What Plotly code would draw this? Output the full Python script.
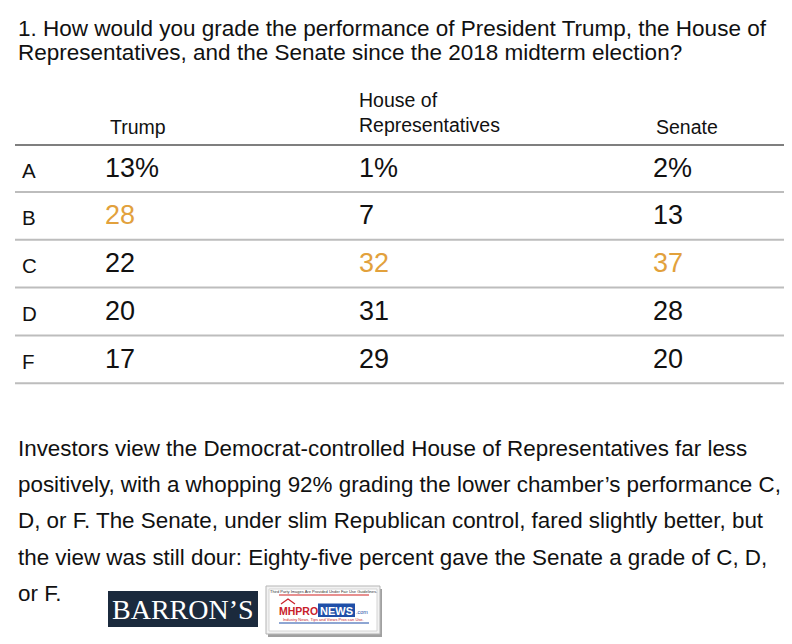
import plotly.graph_objects as go

# ---- data ----
grades = ["A", "B", "C", "D", "F"]
columns = ["Trump", "House of<br>Representatives", "Senate"]
trump = [13, 28, 22, 20, 17]
house = [1, 7, 32, 31, 29]
senate = [2, 13, 37, 28, 20]
title_lines = [
    "1. How would you grade the performance of President Trump, the House of",
    "Representatives, and the Senate since the 2018 midterm election?",
]
para_lines = [
    "Investors view the Democrat-controlled House of Representatives far less",
    "positively, with a whopping 92% grading the lower chamber\u2019s performance C,",
    "D, or F. The Senate, under slim Republican control, fared slightly better, but",
    "the view was still dour: Eighty-five percent gave the Senate a grade of C, D,",
    "or F.",
]

W, H = 792, 644
OFF = 8  # page body margin
FONT = "Liberation Sans"
ORANGE = "#E2A13C"
TXT = "#111111"

fig = go.Figure()
fig.update_layout(
    width=W - OFF, height=H - OFF, margin=dict(l=0, r=0, t=0, b=0),
    paper_bgcolor="white", plot_bgcolor="white", showlegend=False,
    xaxis=dict(range=[OFF, W], visible=False, fixedrange=True),
    yaxis=dict(range=[H, OFF], visible=False, fixedrange=True),
)

ann = []
shapes = []

def txt(x, y, t, size, color=TXT, anchor="left", family=FONT):
    ann.append(dict(x=x, y=y, text=t, xanchor=anchor, yanchor="middle", align="left",
                    showarrow=False, font=dict(family=family, size=size, color=color)))

# title
for i, t in enumerate(title_lines):
    txt(16, 28 + i * 24.5, t, 22.5)

# header
col_x = [103, 357, 651]
head_x = [108, 357, 654]
for c, lab in enumerate(columns):
    parts = lab.split("<br>")
    if len(parts) == 1:
        txt(head_x[c], 127, parts[0], 19.5)
    else:
        for j, p in enumerate(parts):
            txt(head_x[c], 124.5 - (len(parts) - 1 - j) * 25, p, 19.5)
shapes.append(dict(type="line", x0=15, x1=790, y0=145, y1=145, line=dict(color="#555555", width=1.5)))

# rows
series = [trump, house, senate]
maxidx = [s.index(max(s)) for s in series]
row_dy = 47.8
for r, g in enumerate(grades):
    yv = 167.5 + r * row_dy
    txt(20, 170 + r * row_dy, g, 20.5)
    for c, s in enumerate(series):
        t = f"{s[r]}%" if r == 0 else f"{s[r]}"
        txt(col_x[c], yv, t, 27, ORANGE if maxidx[c] == r else TXT)
    ly = 192 + r * row_dy
    shapes.append(dict(type="line", x0=15, x1=790, y0=ly, y1=ly, line=dict(color="#bdbdbd", width=2)))

# paragraph
for i, t in enumerate(para_lines):
    txt(16, 448.5 + i * 36.2, t, 22.4)

# logos
shapes.append(dict(type="rect", x0=108, x1=258, y0=591, y1=627, fillcolor="#1b2a3d", line=dict(width=0)))
txt(183, 609.5, "BARRON\u2019S", 28, "white", "center", "Liberation Serif")

shapes.append(dict(type="rect", x0=268, x1=382, y0=589, y1=637, fillcolor="#a0a0a0", line=dict(width=0)))
shapes.append(dict(type="rect", x0=266, x1=380, y0=586, y1=634, fillcolor="#f2f2f2",
                   line=dict(color="#b5b5b5", width=1)))
shapes.append(dict(type="rect", x0=269, x1=377, y0=589, y1=631, fillcolor="white",
                   line=dict(color="#d5d5d5", width=1)))
txt(323, 591.5, "Third Party Images Are Provided Under Fair Use Guidelines.", 4, "#333333", "center")
shapes.append(dict(type="line", x0=279, x1=369, y0=595, y1=595, line=dict(color="#d02020", width=1.2)))
# little roof over MH
shapes.append(dict(type="path", path="M 281 604 L 288 599 L 295 604", line=dict(color="#c8202a", width=1.2)))
txt(298, 610.5, "<b>MHPRO</b>", 10.5, "#c8202a", "center")
shapes.append(dict(type="rect", x0=318, x1=355, y0=603.5, y1=617, fillcolor="#1f4fa8", line=dict(width=0)))
txt(336.5, 610.5, "<b>NEWS</b>", 11, "white", "center")
txt(362, 612, ".com", 5.5, "#1f4fa8", "center")
txt(323, 619.5, "Industry News, Tips and Views Pros can Use.", 4, "#c8202a", "center")
shapes.append(dict(type="line", x0=279, x1=369, y0=623, y1=623, line=dict(color="#1f4fa8", width=1.2)))

fig.update_layout(annotations=ann, shapes=shapes)
fig.write_html("out.html")
